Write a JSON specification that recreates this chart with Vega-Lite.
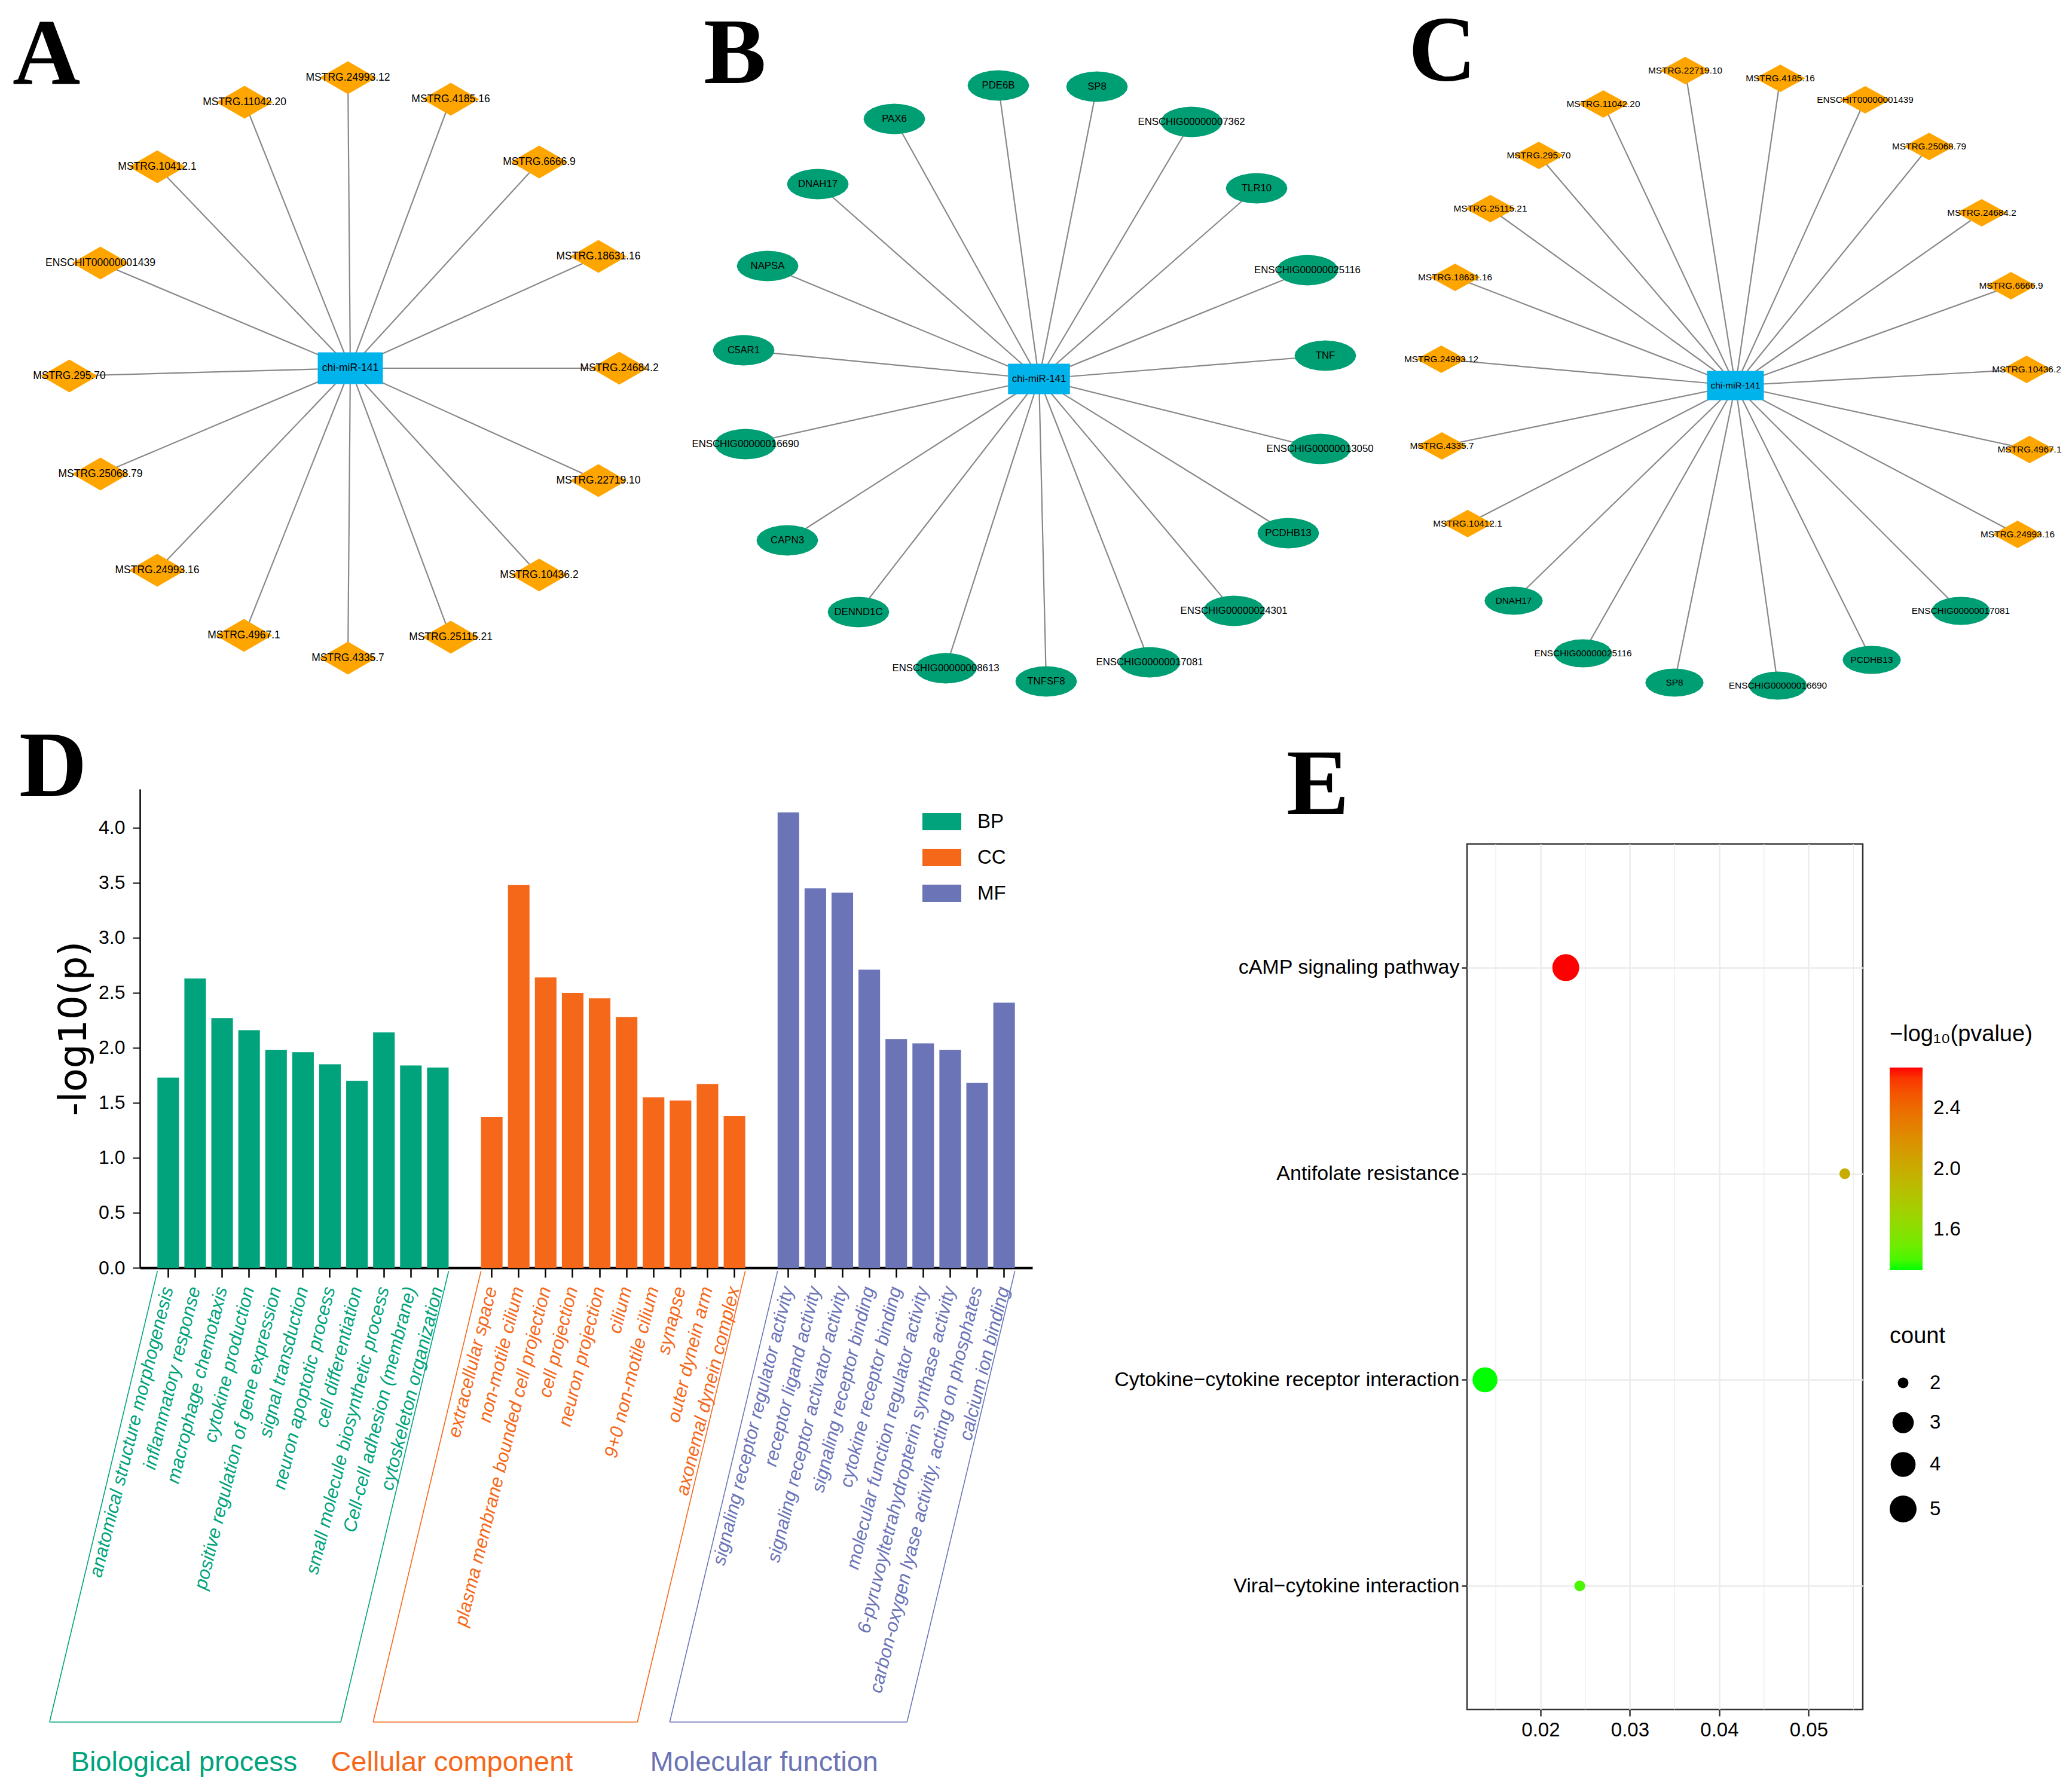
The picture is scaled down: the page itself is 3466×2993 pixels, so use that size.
{
"$schema": "https://vega.github.io/schema/vega-lite/v6.json",
"padding": 0,
"background": "white",
"spacing": 0,
"config": {
  "view": {"stroke": null},
  "legend": {"padding": 0, "labelColor": "black", "titleColor": "black"},
  "axis": {"labelColor": "black", "titleColor": "black"}
},
"resolve": {"scale": {"color": "independent", "shape": "independent", "size": "independent"}, "legend": {"color": "independent", "shape": "independent", "size": "independent"}},
"vconcat": [
{
"spacing": 0,
"bounds": "flush",
"resolve": {"scale": {"color": "independent", "shape": "independent", "size": "independent"}, "legend": {"color": "independent", "shape": "independent", "size": "independent"}},
"hconcat": [
{
  "width": 1150, "height": 1206,
  "data": {"values": [
    {"id":"chi-miR-141","type":"miRNA","x":586,"y":616},
    {"id":"MSTRG.24993.12","type":"lncRNA","x":582,"y":130,"sx":586,"sy":616},
    {"id":"MSTRG.11042.20","type":"lncRNA","x":409,"y":171,"sx":586,"sy":616},
    {"id":"MSTRG.4185.16","type":"lncRNA","x":754,"y":166,"sx":586,"sy":616},
    {"id":"MSTRG.10412.1","type":"lncRNA","x":263,"y":279,"sx":586,"sy":616},
    {"id":"MSTRG.6666.9","type":"lncRNA","x":902,"y":271,"sx":586,"sy":616},
    {"id":"ENSCHIT00000001439","type":"lncRNA","x":168,"y":440,"sx":586,"sy":616},
    {"id":"MSTRG.18631.16","type":"lncRNA","x":1001,"y":429,"sx":586,"sy":616},
    {"id":"MSTRG.295.70","type":"lncRNA","x":116,"y":629,"sx":586,"sy":616},
    {"id":"MSTRG.24684.2","type":"lncRNA","x":1036,"y":616,"sx":586,"sy":616},
    {"id":"MSTRG.25068.79","type":"lncRNA","x":168,"y":793,"sx":586,"sy":616},
    {"id":"MSTRG.22719.10","type":"lncRNA","x":1001,"y":804,"sx":586,"sy":616},
    {"id":"MSTRG.24993.16","type":"lncRNA","x":263,"y":954,"sx":586,"sy":616},
    {"id":"MSTRG.10436.2","type":"lncRNA","x":902,"y":962,"sx":586,"sy":616},
    {"id":"MSTRG.4967.1","type":"lncRNA","x":408,"y":1063,"sx":586,"sy":616},
    {"id":"MSTRG.25115.21","type":"lncRNA","x":754,"y":1066,"sx":586,"sy":616},
    {"id":"MSTRG.4335.7","type":"lncRNA","x":582,"y":1101,"sx":586,"sy":616}
  ]},
  "encoding": {
    "x": {"field": "x", "type": "quantitative", "scale": {"domain": [0, 1150], "nice": false, "zero": false}, "axis": null},
    "y": {"field": "y", "type": "quantitative", "scale": {"domain": [0, 1206], "nice": false, "zero": false, "reverse": true}, "axis": null}
  },
  "layer": [
    {"transform": [{"filter": "datum.type !== 'miRNA'"}],
     "mark": {"type": "rule", "color": "#888888", "strokeWidth": 2.2},
     "encoding": {"x2": {"field": "sx"}, "y2": {"field": "sy"}}},
    {"mark": {"type": "point", "filled": true, "opacity": 1, "size": 9025, "strokeWidth": 0},
     "encoding": {
       "shape": {"field": "type", "type": "nominal", "scale": {"domain": ["miRNA", "lncRNA"], "range": ["M-1.147,-0.558L1.147,-0.558L1.147,0.558L-1.147,0.558Z", "M0,-0.58L1,0L0,0.58L-1,0Z"]}, "legend": null},
       "color": {"field": "type", "type": "nominal", "scale": {"domain": ["miRNA", "lncRNA"], "range": ["#00B3EA", "#FFA500"]}, "legend": null}}},
    {"mark": {"type": "text", "font": "Liberation Sans", "fontSize": 17.5, "color": "black"},
     "encoding": {"text": {"field": "id"}}},
    {"data": {"values": [{"letter": "A", "x": 21, "y": 140}]},
     "mark": {"type": "text", "font": "Liberation Serif", "fontWeight": "bold", "fontSize": 157, "align": "left", "baseline": "alphabetic", "color": "black"},
     "encoding": {"text": {"field": "letter"}}}
  ]
},
{
  "width": 1180, "height": 1206,
  "data": {"values": [
    {"id":"chi-miR-141","type":"miRNA","x":588,"y":634},
    {"id":"PDE6B","type":"mRNA","x":520,"y":143,"sx":588,"sy":634},
    {"id":"SP8","type":"mRNA","x":685,"y":145,"sx":588,"sy":634},
    {"id":"PAX6","type":"mRNA","x":346,"y":199,"sx":588,"sy":634},
    {"id":"ENSCHIG00000007362","type":"mRNA","x":843,"y":204,"sx":588,"sy":634},
    {"id":"DNAH17","type":"mRNA","x":218,"y":308,"sx":588,"sy":634},
    {"id":"TLR10","type":"mRNA","x":952,"y":315,"sx":588,"sy":634},
    {"id":"NAPSA","type":"mRNA","x":134,"y":445,"sx":588,"sy":634},
    {"id":"ENSCHIG00000025116","type":"mRNA","x":1037,"y":452,"sx":588,"sy":634},
    {"id":"C5AR1","type":"mRNA","x":94,"y":586,"sx":588,"sy":634},
    {"id":"TNF","type":"mRNA","x":1067,"y":595,"sx":588,"sy":634},
    {"id":"ENSCHIG00000016690","type":"mRNA","x":97,"y":743,"sx":588,"sy":634},
    {"id":"ENSCHIG00000013050","type":"mRNA","x":1058,"y":751,"sx":588,"sy":634},
    {"id":"CAPN3","type":"mRNA","x":167,"y":904,"sx":588,"sy":634},
    {"id":"PCDHB13","type":"mRNA","x":1005,"y":892,"sx":588,"sy":634},
    {"id":"DENND1C","type":"mRNA","x":286,"y":1024,"sx":588,"sy":634},
    {"id":"ENSCHIG00000024301","type":"mRNA","x":914,"y":1022,"sx":588,"sy":634},
    {"id":"ENSCHIG00000008613","type":"mRNA","x":432,"y":1118,"sx":588,"sy":634},
    {"id":"TNFSF8","type":"mRNA","x":600,"y":1140,"sx":588,"sy":634},
    {"id":"ENSCHIG00000017081","type":"mRNA","x":773,"y":1108,"sx":588,"sy":634}
  ]},
  "encoding": {
    "x": {"field": "x", "type": "quantitative", "scale": {"domain": [0, 1180], "nice": false, "zero": false}, "axis": null},
    "y": {"field": "y", "type": "quantitative", "scale": {"domain": [0, 1206], "nice": false, "zero": false, "reverse": true}, "axis": null}
  },
  "layer": [
    {"transform": [{"filter": "datum.type !== 'miRNA'"}],
     "mark": {"type": "rule", "color": "#888888", "strokeWidth": 2.2},
     "encoding": {"x2": {"field": "sx"}, "y2": {"field": "sy"}}},
    {"mark": {"type": "point", "filled": true, "opacity": 1, "size": 10609, "strokeWidth": 0},
     "encoding": {
       "shape": {"field": "type", "type": "nominal", "scale": {"domain": ["miRNA", "mRNA"], "range": ["M-1.005,-0.495L1.005,-0.495L1.005,0.495L-1.005,0.495Z", "M1,0L0.966,0.128L0.866,0.248L0.707,0.35L0.5,0.429L0.259,0.478L0,0.495L-0.259,0.478L-0.5,0.429L-0.707,0.35L-0.866,0.248L-0.966,0.128L-1,0L-0.966,-0.128L-0.866,-0.248L-0.707,-0.35L-0.5,-0.429L-0.259,-0.478L0,-0.495L0.259,-0.478L0.5,-0.429L0.707,-0.35L0.866,-0.248L0.966,-0.128Z"]}, "legend": null},
       "color": {"field": "type", "type": "nominal", "scale": {"domain": ["miRNA", "mRNA"], "range": ["#00B3EA", "#009E73"]}, "legend": null}}},
    {"mark": {"type": "text", "font": "Liberation Sans", "fontSize": 16.8, "color": "black"},
     "encoding": {"text": {"field": "id"}}},
    {"data": {"values": [{"letter": "B", "x": 27, "y": 139}]},
     "mark": {"type": "text", "font": "Liberation Serif", "fontWeight": "bold", "fontSize": 157, "align": "left", "baseline": "alphabetic", "color": "black"},
     "encoding": {"text": {"field": "letter"}}}
  ]
},
{
  "width": 1136, "height": 1206,
  "data": {"values": [
    {"id":"chi-miR-141","type":"miRNA","x":573,"y":645},
    {"id":"MSTRG.22719.10","type":"lncRNA","x":489,"y":118,"sx":573,"sy":645},
    {"id":"MSTRG.4185.16","type":"lncRNA","x":648,"y":131,"sx":573,"sy":645},
    {"id":"MSTRG.11042.20","type":"lncRNA","x":352,"y":174,"sx":573,"sy":645},
    {"id":"ENSCHIT00000001439","type":"lncRNA","x":790,"y":167,"sx":573,"sy":645},
    {"id":"MSTRG.295.70","type":"lncRNA","x":244,"y":260,"sx":573,"sy":645},
    {"id":"MSTRG.25068.79","type":"lncRNA","x":897,"y":245,"sx":573,"sy":645},
    {"id":"MSTRG.25115.21","type":"lncRNA","x":163,"y":349,"sx":573,"sy":645},
    {"id":"MSTRG.24684.2","type":"lncRNA","x":985,"y":356,"sx":573,"sy":645},
    {"id":"MSTRG.18631.16","type":"lncRNA","x":104,"y":464,"sx":573,"sy":645},
    {"id":"MSTRG.6666.9","type":"lncRNA","x":1034,"y":478,"sx":573,"sy":645},
    {"id":"MSTRG.24993.12","type":"lncRNA","x":81,"y":601,"sx":573,"sy":645},
    {"id":"MSTRG.10436.2","type":"lncRNA","x":1060,"y":618,"sx":573,"sy":645},
    {"id":"MSTRG.4335.7","type":"lncRNA","x":82,"y":746,"sx":573,"sy":645},
    {"id":"MSTRG.4967.1","type":"lncRNA","x":1065,"y":752,"sx":573,"sy":645},
    {"id":"MSTRG.10412.1","type":"lncRNA","x":125,"y":876,"sx":573,"sy":645},
    {"id":"MSTRG.24993.16","type":"lncRNA","x":1045,"y":894,"sx":573,"sy":645},
    {"id":"DNAH17","type":"mRNA","x":202,"y":1005,"sx":573,"sy":645},
    {"id":"ENSCHIG00000017081","type":"mRNA","x":950,"y":1022,"sx":573,"sy":645},
    {"id":"ENSCHIG00000025116","type":"mRNA","x":318,"y":1093,"sx":573,"sy":645},
    {"id":"PCDHB13","type":"mRNA","x":801,"y":1104,"sx":573,"sy":645},
    {"id":"SP8","type":"mRNA","x":471,"y":1142,"sx":573,"sy":645},
    {"id":"ENSCHIG00000016690","type":"mRNA","x":644,"y":1147,"sx":573,"sy":645}
  ]},
  "encoding": {
    "x": {"field": "x", "type": "quantitative", "scale": {"domain": [0, 1136], "nice": false, "zero": false}, "axis": null},
    "y": {"field": "y", "type": "quantitative", "scale": {"domain": [0, 1206], "nice": false, "zero": false, "reverse": true}, "axis": null}
  },
  "layer": [
    {"transform": [{"filter": "datum.type !== 'miRNA'"}],
     "mark": {"type": "rule", "color": "#888888", "strokeWidth": 2.2},
     "encoding": {"x2": {"field": "sx"}, "y2": {"field": "sy"}}},
    {"mark": {"type": "point", "filled": true, "opacity": 1, "size": 7056, "strokeWidth": 0},
     "encoding": {
       "shape": {"field": "type", "type": "nominal", "scale": {"domain": ["miRNA", "lncRNA", "mRNA"], "range": ["M-1.13,-0.583L1.13,-0.583L1.13,0.583L-1.13,0.583Z", "M0,-0.548L1,0L0,0.548L-1,0Z", "M1.16,0L1.12,0.145L1.005,0.28L0.82,0.396L0.58,0.485L0.3,0.541L0,0.56L-0.3,0.541L-0.58,0.485L-0.82,0.396L-1.005,0.28L-1.12,0.145L-1.16,0L-1.12,-0.145L-1.005,-0.28L-0.82,-0.396L-0.58,-0.485L-0.3,-0.541L0,-0.56L0.3,-0.541L0.58,-0.485L0.82,-0.396L1.005,-0.28L1.12,-0.145Z"]}, "legend": null},
       "color": {"field": "type", "type": "nominal", "scale": {"domain": ["miRNA", "lncRNA", "mRNA"], "range": ["#00B3EA", "#FFA500", "#009E73"]}, "legend": null}}},
    {"mark": {"type": "text", "font": "Liberation Sans", "fontSize": 15.4, "color": "black"},
     "encoding": {"text": {"field": "id"}}},
    {"data": {"values": [{"letter": "C", "x": 26, "y": 134}]},
     "mark": {"type": "text", "font": "Liberation Serif", "fontWeight": "bold", "fontSize": 157, "align": "left", "baseline": "alphabetic", "color": "black"},
     "encoding": {"text": {"field": "letter"}}}
  ]
}
]
},
{
"spacing": 0,
"bounds": "flush",
"resolve": {"scale": {"color": "independent", "shape": "independent", "size": "independent"}, "legend": {"color": "independent", "shape": "independent", "size": "independent"}},
"hconcat": [
{
  "width": 234, "height": 200,
  "data": {"values": [{"letter": "D", "x": 32, "y": 12}]},
  "mark": {"type": "text", "font": "Liberation Serif", "fontWeight": "bold", "fontSize": 157, "align": "left", "baseline": "alphabetic", "color": "black"},
  "encoding": {
    "x": {"field": "x", "type": "quantitative", "scale": {"domain": [0, 234], "nice": false, "zero": false}, "axis": null},
    "y": {"field": "y", "type": "quantitative", "scale": {"domain": [0, 200], "nice": false, "zero": false, "reverse": true}, "axis": null},
    "text": {"field": "letter"}
  }
},
{
  "width": 1493, "height": 801,
  "layer": [
    {
      "data": {"values": [
        {"term":"anatomical structure morphogenesis","group":"BP","value":1.73},
        {"term":"inflammatory response","group":"BP","value":2.63},
        {"term":"macrophage chemotaxis","group":"BP","value":2.27},
        {"term":"cytokine production","group":"BP","value":2.16},
        {"term":"positive regulation of gene expression","group":"BP","value":1.98},
        {"term":"signal transduction","group":"BP","value":1.96},
        {"term":"neuron apoptotic process","group":"BP","value":1.85},
        {"term":"cell differentiation","group":"BP","value":1.70},
        {"term":"small molecule biosynthetic process","group":"BP","value":2.14},
        {"term":"Cell-cell adhesion (membrane)","group":"BP","value":1.84},
        {"term":"cytoskeleton organization","group":"BP","value":1.82},
        {"term":"extracellular space","group":"CC","value":1.37},
        {"term":"non-motile cilium","group":"CC","value":3.48},
        {"term":"plasma membrane bounded cell projection","group":"CC","value":2.64},
        {"term":"cell projection","group":"CC","value":2.50},
        {"term":"neuron projection","group":"CC","value":2.45},
        {"term":"cilium","group":"CC","value":2.28},
        {"term":"9+0 non-motile cilium","group":"CC","value":1.55},
        {"term":"synapse","group":"CC","value":1.52},
        {"term":"outer dynein arm","group":"CC","value":1.67},
        {"term":"axonemal dynein complex","group":"CC","value":1.38},
        {"term":"signaling receptor regulator activity","group":"MF","value":4.14},
        {"term":"receptor ligand activity","group":"MF","value":3.45},
        {"term":"signaling receptor activator activity","group":"MF","value":3.41},
        {"term":"signaling receptor binding","group":"MF","value":2.71},
        {"term":"cytokine receptor binding","group":"MF","value":2.08},
        {"term":"molecular function regulator activity","group":"MF","value":2.04},
        {"term":"6-pyruvoyltetrahydropterin synthase activity","group":"MF","value":1.98},
        {"term":"carbon-oxygen lyase activity, acting on phosphates","group":"MF","value":1.68},
        {"term":"calcium ion binding","group":"MF","value":2.41}
      ]},
      "mark": {"type": "bar"},
      "encoding": {
        "x": {"field": "term", "type": "nominal",
          "scale": {"domain": ["anatomical structure morphogenesis","inflammatory response","macrophage chemotaxis","cytokine production","positive regulation of gene expression","signal transduction","neuron apoptotic process","cell differentiation","small molecule biosynthetic process","Cell-cell adhesion (membrane)","cytoskeleton organization","gap1","extracellular space","non-motile cilium","plasma membrane bounded cell projection","cell projection","neuron projection","cilium","9+0 non-motile cilium","synapse","outer dynein arm","axonemal dynein complex","gap2","signaling receptor regulator activity","receptor ligand activity","signaling receptor activator activity","signaling receptor binding","cytokine receptor binding","molecular function regulator activity","6-pyruvoyltetrahydropterin synthase activity","carbon-oxygen lyase activity, acting on phosphates","calcium ion binding"], "paddingInner": 0.2, "paddingOuter": 0.65},
          "axis": {"title": null,
            "values": ["anatomical structure morphogenesis","inflammatory response","macrophage chemotaxis","cytokine production","positive regulation of gene expression","signal transduction","neuron apoptotic process","cell differentiation","small molecule biosynthetic process","Cell-cell adhesion (membrane)","cytoskeleton organization","extracellular space","non-motile cilium","plasma membrane bounded cell projection","cell projection","neuron projection","cilium","9+0 non-motile cilium","synapse","outer dynein arm","axonemal dynein complex","signaling receptor regulator activity","receptor ligand activity","signaling receptor activator activity","signaling receptor binding","cytokine receptor binding","molecular function regulator activity","6-pyruvoyltetrahydropterin synthase activity","carbon-oxygen lyase activity, acting on phosphates","calcium ion binding"],
            "labelAngle": -76, "labelAlign": "right", "labelBaseline": "middle",
            "labelFont": "Liberation Sans", "labelFontSize": 31, "labelFontStyle": "italic",
            "labelLimit": 2000, "labelOverlap": false, "labelPadding": 16,
            "tickSize": 16, "tickWidth": 2.5, "tickColor": "black",
            "domainColor": "black", "domainWidth": 4,
            "labelColor": {"condition": [
              {"test": "indexof(['extracellular space','non-motile cilium','plasma membrane bounded cell projection','cell projection','neuron projection','cilium','9+0 non-motile cilium','synapse','outer dynein arm','axonemal dynein complex'], datum.value) >= 0", "value": "#F5681A"},
              {"test": "indexof(['signaling receptor regulator activity','receptor ligand activity','signaling receptor activator activity','signaling receptor binding','cytokine receptor binding','molecular function regulator activity','6-pyruvoyltetrahydropterin synthase activity','carbon-oxygen lyase activity, acting on phosphates','calcium ion binding'], datum.value) >= 0", "value": "#6B74B7"}
            ], "value": "#00A37B"}
          }
        },
        "y": {"field": "value", "type": "quantitative",
          "scale": {"domain": [0, 4.353], "nice": false, "zero": true},
          "axis": {"title": "-log10(p)", "titleFont": "DejaVu Sans", "titleFontSize": 64, "titleFontWeight": "normal", "titlePadding": 8,
            "values": [0, 0.5, 1, 1.5, 2, 2.5, 3, 3.5, 4], "format": ".1f", "grid": false,
            "labelFont": "Liberation Sans", "labelFontSize": 32, "labelPadding": 13,
            "tickSize": 12, "tickWidth": 2, "tickColor": "black", "domainColor": "black", "domainWidth": 2.5}
        },
        "color": {"field": "group", "type": "nominal",
          "scale": {"domain": ["BP", "CC", "MF"], "range": ["#00A37B", "#F5681A", "#6B74B7"]},
          "legend": {"orient": "none", "legendX": 1309, "legendY": 22, "title": null, "direction": "vertical",
            "symbolType": "M-1,-0.446L1,-0.446L1,0.446L-1,0.446Z", "symbolSize": 4225, "symbolStrokeWidth": 0,
            "labelFont": "Liberation Sans", "labelFontSize": 33, "labelOffset": 27, "rowPadding": 10}
        }
      }
    },
    {
      "data": {"values": [
        {"group":"BP","u":0.65,"v":-0.03,"u2":-3.35,"v2":-4.13},
        {"group":"BP","u":11.45,"v":-0.03,"u2":7.45,"v2":-4.13},
        {"group":"BP","u":-3.35,"v":-4.13,"u2":7.45,"v2":-4.13},
        {"group":"CC","u":12.65,"v":-0.03,"u2":8.65,"v2":-4.13},
        {"group":"CC","u":22.45,"v":-0.03,"u2":18.45,"v2":-4.13},
        {"group":"CC","u":8.65,"v":-4.13,"u2":18.45,"v2":-4.13},
        {"group":"MF","u":23.65,"v":-0.03,"u2":19.65,"v2":-4.13},
        {"group":"MF","u":32.45,"v":-0.03,"u2":28.45,"v2":-4.13},
        {"group":"MF","u":19.65,"v":-4.13,"u2":28.45,"v2":-4.13}
      ]},
      "mark": {"type": "rule", "strokeWidth": 1.6},
      "encoding": {
        "x": {"field": "u", "type": "quantitative", "scale": {"domain": [0, 33.1], "nice": false, "zero": false}, "axis": null},
        "x2": {"field": "u2"},
        "y": {"field": "v", "type": "quantitative", "scale": {"domain": [0, 4.353], "nice": false}, "axis": {"title": "-log10(p)"}},
        "y2": {"field": "v2"},
        "color": {"field": "group", "type": "nominal", "scale": {"domain": ["BP", "CC", "MF"], "range": ["#00A37B", "#F5681A", "#6B74B7"]}, "legend": null}
      }
    },
    {
      "data": {"values": [
        {"group":"BP","name":"Biological process","u":1.64,"v":-4.5},
        {"group":"CC","name":"Cellular component","u":11.57,"v":-4.5},
        {"group":"MF","name":"Molecular function","u":23.15,"v":-4.5}
      ]},
      "mark": {"type": "text", "font": "Liberation Sans", "fontSize": 47, "align": "center", "baseline": "middle"},
      "encoding": {
        "x": {"field": "u", "type": "quantitative", "scale": {"domain": [0, 33.1], "nice": false, "zero": false}, "axis": null},
        "y": {"field": "v", "type": "quantitative", "scale": {"domain": [0, 4.353], "nice": false}, "axis": {"title": "-log10(p)"}},
        "text": {"field": "name"},
        "color": {"field": "group", "type": "nominal", "scale": {"domain": ["BP", "CC", "MF"], "range": ["#00A37B", "#F5681A", "#6B74B7"]}, "legend": null}
      }
    }
  ],
  "resolve": {"scale": {"x": "independent", "color": "independent"}, "axis": {"x": "independent"}, "legend": {"color": "independent"}}
},
{
  "width": 727, "height": 200,
  "data": {"values": [{"letter": "E", "x": 425, "y": 42}]},
  "mark": {"type": "text", "font": "Liberation Serif", "fontWeight": "bold", "fontSize": 157, "align": "left", "baseline": "alphabetic", "color": "black"},
  "encoding": {
    "x": {"field": "x", "type": "quantitative", "scale": {"domain": [0, 727], "nice": false, "zero": false}, "axis": null},
    "y": {"field": "y", "type": "quantitative", "scale": {"domain": [0, 200], "nice": false, "zero": false, "reverse": true}, "axis": null},
    "text": {"field": "letter"}
  }
},
{
"spacing": 0,
"bounds": "flush",
"resolve": {"scale": {"color": "independent", "shape": "independent", "size": "independent"}, "legend": {"color": "independent", "shape": "independent", "size": "independent"}},
"vconcat": [
{
  "width": 10, "height": 92,
  "data": {"values": []},
  "mark": "point"
},
{
  "width": 662, "height": 1448,
  "view": {"stroke": "#333333", "strokeWidth": 2.5},
  "layer": [
    {
      "data": {"values": [{"m": 0.015}, {"m": 0.025}, {"m": 0.035}, {"m": 0.045}, {"m": 0.055}]},
      "mark": {"type": "rule", "color": "#EBEBEB", "strokeWidth": 1.3},
      "encoding": {
        "x": {"field": "m", "type": "quantitative", "scale": {"domain": [0.01178, 0.05606], "nice": false, "zero": false}, "axis": {"title": null}}
      }
    },
    {
      "data": {"values": [
        {"pathway": "cAMP signaling pathway", "ratio": 0.02283, "count": 5, "logp": 2.67},
        {"pathway": "Antifolate resistance", "ratio": 0.05405, "count": 2, "logp": 1.99},
        {"pathway": "Cytokine−cytokine receptor interaction", "ratio": 0.01379, "count": 4, "logp": 1.33},
        {"pathway": "Viral−cytokine interaction", "ratio": 0.02439, "count": 2, "logp": 1.40}
      ]},
      "mark": {"type": "point", "filled": true, "opacity": 1, "strokeWidth": 0},
      "encoding": {
        "x": {"field": "ratio", "type": "quantitative",
          "scale": {"domain": [0.01178, 0.05606], "nice": false, "zero": false},
          "axis": {"title": null, "values": [0.02, 0.03, 0.04, 0.05], "format": ".2f", "grid": true, "gridColor": "#EBEBEB", "gridWidth": 2.5, "domain": false,
            "tickSize": 11, "tickWidth": 2.5, "tickColor": "#333333",
            "labelFont": "Liberation Sans", "labelFontSize": 33, "labelPadding": 7}},
        "y": {"field": "pathway", "type": "nominal",
          "scale": {"type": "point", "domain": ["cAMP signaling pathway", "Antifolate resistance", "Cytokine−cytokine receptor interaction", "Viral−cytokine interaction"], "padding": 0.6},
          "axis": {"title": null, "grid": true, "gridColor": "#EBEBEB", "gridWidth": 2.5, "domain": false,
            "tickSize": 9, "tickWidth": 2.5, "tickColor": "#333333",
            "labelFont": "Liberation Sans", "labelFontSize": 34, "labelPadding": 4, "labelLimit": 2000}},
        "size": {"field": "count", "type": "quantitative",
          "scale": {"type": "pow", "exponent": -1, "domain": [2, 5], "range": [324, 2025], "zero": false, "nice": false},
          "legend": {"orient": "none", "legendX": 707, "legendY": 805, "title": "count", "direction": "vertical", "values": [2, 3, 4, 5], "format": "d",
            "titleFont": "Liberation Sans", "titleFontSize": 38, "titleFontWeight": "normal", "titlePadding": 42,
            "labelFont": "Liberation Sans", "labelFontSize": 33, "labelOffset": 22,
            "symbolType": "circle", "symbolFillColor": "black", "symbolStrokeColor": "black", "symbolStrokeWidth": 0, "symbolOpacity": 1, "rowPadding": 31}},
        "color": {"field": "logp", "type": "quantitative",
          "scale": {"domain": [1.33, 2.67], "range": ["#00FF00", "#FF0000"], "interpolate": "lab"},
          "legend": {"orient": "none", "legendX": 707, "legendY": 300, "title": "−log₁₀(pvalue)", "titleLimit": 1000, "direction": "vertical",
            "gradientLength": 339, "gradientThickness": 55, "gradientStrokeWidth": 0,
            "values": [1.6, 2.0, 2.4], "format": ".1f",
            "titleFont": "Liberation Sans", "titleFontSize": 38, "titleFontWeight": "normal", "titlePadding": 36,
            "labelFont": "Liberation Sans", "labelFontSize": 33, "labelOffset": 18}}
      }
    }
  ]
}
]
}
]
}
]
}
